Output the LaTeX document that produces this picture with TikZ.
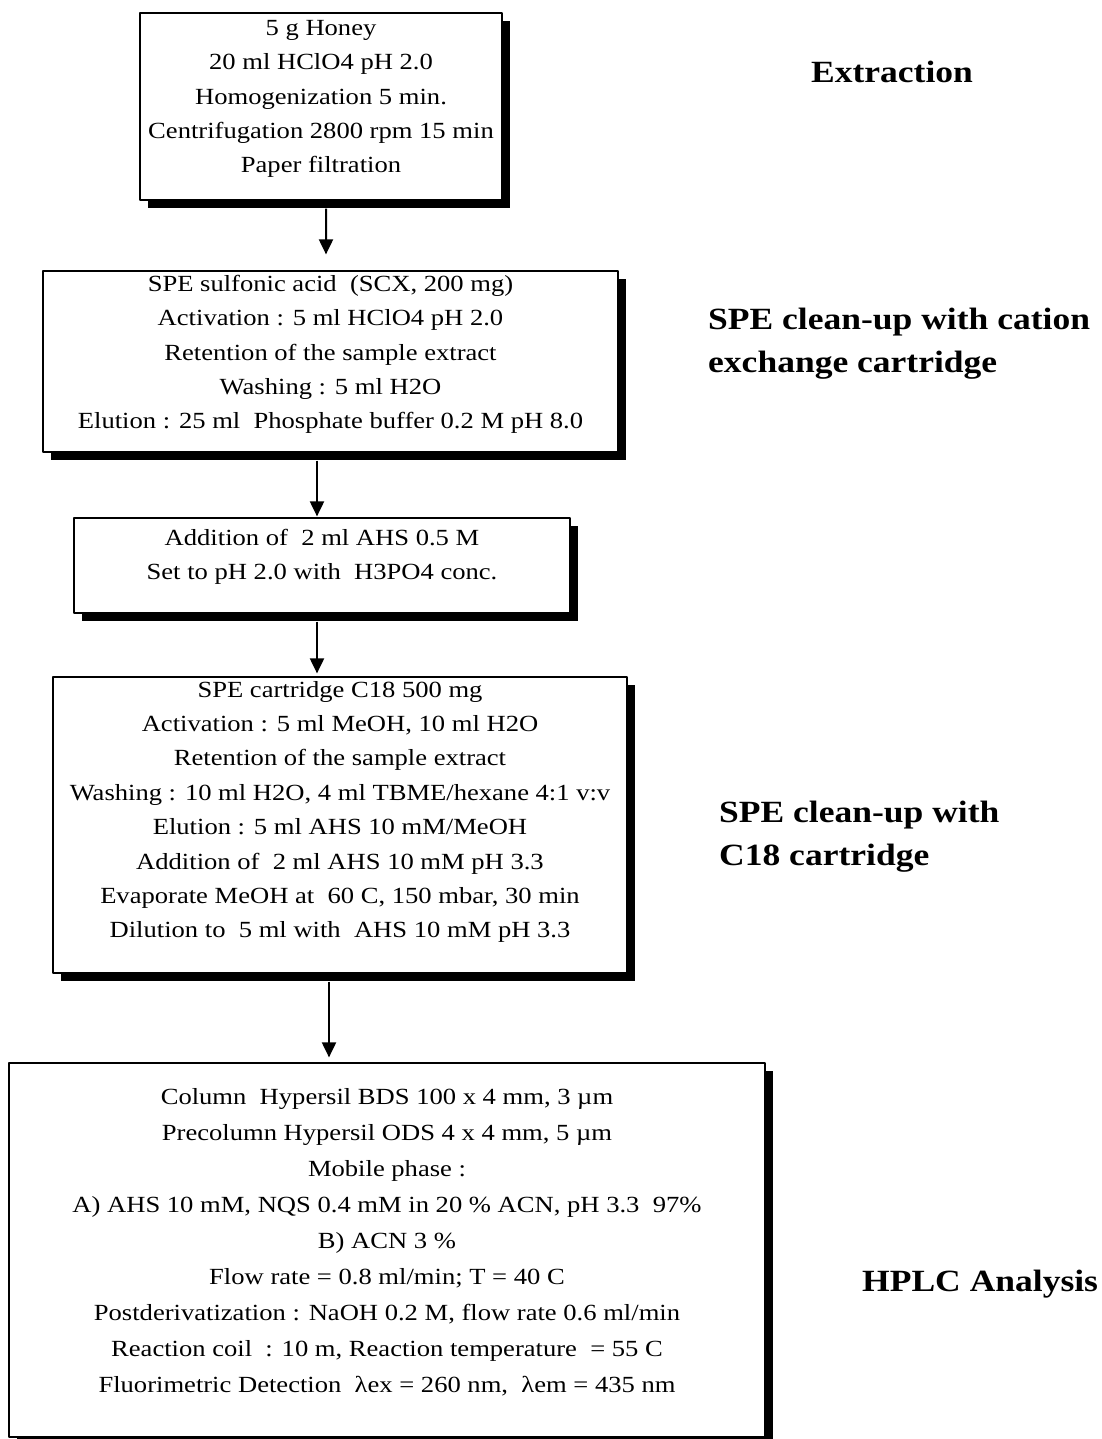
\documentclass[tikz,border=0pt]{standalone}
\usepackage{fontspec}
\setmainfont{Liberation Serif}[FakeStretch=1.15]
\usetikzlibrary{arrows.meta,shadows}
\tikzset{
  procbox/.style={draw=black,line width=1.2bp,fill=white,rectangle,
    drop shadow={shadow xshift=8bp,shadow yshift=-8bp,fill=black,opacity=1}},
  proctext/.style={align=center,inner sep=0pt,font=\fontsize{23.2}{34.5}\selectfont},
  heading/.style={align=left,inner sep=0pt,font=\bfseries\fontsize{31}{43.5}\selectfont},
}
\begin{document}
\begin{tikzpicture}[>={Triangle[length=15bp,width=14bp]},line join=bevel,]
\useasboundingbox (0bp,0bp) rectangle (1102bp,1439bp);
%%
\node (box_1) at (321bp,1332.5bp) [procbox,minimum width=362bp,minimum height=187bp] {};
  \node (box_2) at (330.5bp,1077.5bp) [procbox,minimum width=575bp,minimum height=181bp] {};
  \node (box_3) at (322bp,873.5bp) [procbox,minimum width=496bp,minimum height=95bp] {};
  \node (box_4) at (340bp,614bp) [procbox,minimum width=574bp,minimum height=296bp] {};
  \node (box_5) at (387bp,189bp) [procbox,minimum width=756bp,minimum height=374bp] {};
%
\node (text_1) at ([yshift=7.5bp]box_1.center) [proctext] {5 g Honey\\20 ml HClO4 pH 2.0\\Homogenization 5 min.\\Centrifugation 2800 rpm 15 min\\Paper filtration};
  \node (text_2) at ([yshift=7bp]box_2.center) [proctext] {SPE sulfonic acid\ \ (SCX, 200 mg)\\Activation : 5 ml HClO4 pH 2.0\\Retention of the sample extract\\Washing : 5 ml H2O\\Elution : 25 ml\ \ Phosphate buffer 0.2 M pH 8.0};
  \node (text_3) at ([yshift=8.5bp]box_3.center) [proctext] {Addition of\ \ 2 ml AHS 0.5 M\\Set to pH 2.0 with\ \ H3PO4 conc.};
  \node (text_4) at ([yshift=13bp]box_4.center) [proctext] {SPE cartridge C18 500 mg\\Activation : 5 ml MeOH, 10 ml H2O\\Retention of the sample extract\\Washing : 10 ml H2O, 4 ml TBME/hexane 4:1 v:v\\Elution : 5 ml AHS 10 mM/MeOH\\Addition of\ \ 2 ml AHS 10 mM pH 3.3\\Evaporate MeOH at\ \ 60 C, 150 mbar, 30 min\\Dilution to\ \ 5 ml with\ \ AHS 10 mM pH 3.3};
  \node (text_5) at ([yshift=8bp]box_5.center) [proctext,font=\fontsize{23.2}{36.1}\selectfont] {Column\ \ Hypersil BDS 100 x 4 mm, 3 µm\\Precolumn Hypersil ODS 4 x 4 mm, 5 µm\\Mobile phase :\\A) AHS 10 mM, NQS 0.4 mM in 20 \% ACN, pH 3.3\ \ 97\%\\B) ACN 3 \%\\Flow rate = 0.8 ml/min; T = 40 C\\Postderivatization : NaOH 0.2 M, flow rate 0.6 ml/min\\Reaction coil\ \ : 10 m, Reaction temperature\ \ = 55 C\\Fluorimetric Detection\ \ λex = 260 nm,\ \ λem = 435 nm};
%
\node (head_1) at (892bp,1356bp) [heading,anchor=base] {Extraction};
  \node (head_2) at (708bp,1131bp) [heading,anchor=north west] {SPE clean-up with cation\\exchange cartridge};
  \node (head_3) at (719bp,638bp) [heading,anchor=north west] {SPE clean-up with\\C18 cartridge};
  \node (head_4) at (862bp,147bp) [heading,anchor=base west] {HPLC Analysis};
%
\draw [black,->,line width=2bp] ([xshift=5bp,yshift=-8bp]box_1.south) -- ([xshift=-4.5bp,yshift=16bp]box_2.north);
  \draw [black,->,line width=2bp] ([xshift=-13.5bp,yshift=-8bp]box_2.south) -- ([xshift=-5bp,yshift=1bp]box_3.north);
  \draw [black,->,line width=2bp] ([xshift=-5bp,yshift=-8bp]box_3.south) -- ([xshift=-23bp,yshift=3bp]box_4.north);
  \draw [black,->,line width=2bp] ([xshift=-11bp,yshift=-8bp]box_4.south) -- ([xshift=-58bp,yshift=5bp]box_5.north);
%
\end{tikzpicture}
\end{document}
